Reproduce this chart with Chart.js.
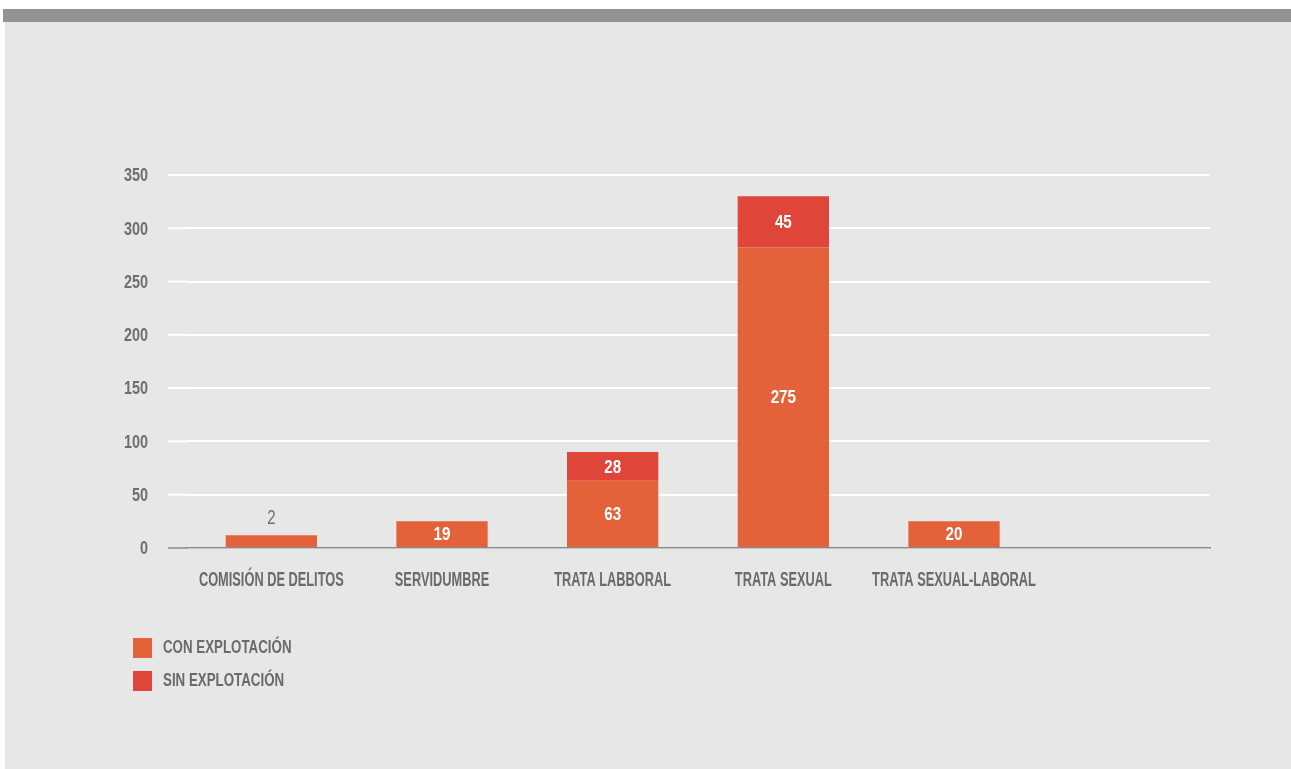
<!DOCTYPE html>
<html>
<head>
<meta charset="utf-8">
<script src="https://cdn.jsdelivr.net/npm/chart.js@4"></script>
<style>
  body { margin: 0; background: #fff; }
  #panel { position: absolute; left: 5px; top: 9px; width: 1286px; height: 760px; background: #e7e7e7; }
  #franja { position: absolute; left: 3px; top: 9px; width: 1288px; height: 13px; background: #939397; }
  #wrap { position: absolute; left: 0; top: 0; width: 1291px; height: 769px; }
  .leyenda { position: absolute; left: 133px; height: 20px; }
  .leyenda span.caja { position: absolute; left: 0; top: 0; width: 19px; height: 20px; }
  .leyenda span.txt { position: absolute; left: 30px; top: -1px; white-space: nowrap; font: bold 18px "Liberation Sans", Arial, sans-serif; color: #6a6a6a; transform: scaleX(0.74); transform-origin: left center; }
</style>
</head>
<body>
<div id="panel"></div>
<div id="franja"></div>
<div id="wrap"><canvas id="grafico"></canvas></div>
<div class="leyenda" style="top:638px"><span class="caja" style="background:#e3623a"></span><span class="txt">CON EXPLOTACIÓN</span></div>
<div class="leyenda" style="top:671px"><span class="caja" style="background:#df4538"></span><span class="txt">SIN EXPLOTACIÓN</span></div>
<script>
// Datos (altura dibujada y cifra rotulada)
const categorias = ['COMISIÓN DE DELITOS', 'SERVIDUMBRE', 'TRATA LABBORAL', 'TRATA SEXUAL', 'TRATA SEXUAL-LABORAL'];
const conExplotacion = [12, 25, 63, 282, 25];
const sinExplotacion = [0, 0, 27, 48, 0];
const rotuloCon = ['2', '19', '63', '275', '20'];
const rotuloSin = ['', '', '28', '45', ''];
const ticksY = [0, 50, 100, 150, 200, 250, 300, 350];

const fuente = '"Liberation Sans", Arial, sans-serif';
const inicioLineas = 168; // las líneas de guía empiezan antes que las barras

// texto estrechado (la fuente original es muy condensada)
function texto(ctx, str, x, y, align, sx) {
    ctx.save();
    ctx.translate(x, y);
    ctx.scale(sx, 1);
    ctx.textAlign = align;
    ctx.textBaseline = 'middle';
    ctx.fillText(str, 0, 0);
    ctx.restore();
}

const rotulos = {
    id: 'rotulos',
    beforeDatasetsDraw(chart) {
        // prolonga la rejilla y el eje hacia la izquierda
        const ctx = chart.ctx;
        const ejeY = chart.scales.y;
        const izq = chart.chartArea.left;
        ctx.save();
        ticksY.forEach(v => {
            const y = ejeY.getPixelForValue(v);
            ctx.strokeStyle = v === 0 ? '#8a8a8a' : '#ffffff';
            ctx.lineWidth = v === 0 ? 1.5 : 2;
            ctx.beginPath();
            ctx.moveTo(inicioLineas, y);
            ctx.lineTo(izq + 1, y);
            ctx.stroke();
        });
        ctx.restore();
    },
    afterDraw(chart) {
        const ctx = chart.ctx;
        const ejeX = chart.scales.x;
        const ejeY = chart.scales.y;

        // marcas del eje Y
        ctx.fillStyle = '#6e6e6e';
        ctx.font = 'bold 19px ' + fuente;
        ticksY.forEach(v => texto(ctx, String(v), 148, ejeY.getPixelForValue(v) + 1, 'right', 0.76));

        // categorías del eje X
        ctx.fillStyle = '#6a6a6a';
        ctx.font = 'bold 20px ' + fuente;
        categorias.forEach((c, i) => texto(ctx, c, ejeX.getPixelForTick(i), ejeX.top + 32, 'center', 0.64));

        // cifras de las barras
        const m0 = chart.getDatasetMeta(0);
        const m1 = chart.getDatasetMeta(1);
        categorias.forEach((c, i) => {
            const b = m0.data[i];
            if (i === 0) {
                ctx.fillStyle = '#6e6e6e';
                ctx.font = '20px ' + fuente;
                texto(ctx, rotuloCon[i], b.x, b.y - 17, 'center', 0.75);
            } else {
                ctx.fillStyle = '#fff';
                ctx.font = 'bold 19px ' + fuente;
                texto(ctx, rotuloCon[i], b.x, (b.y + b.base) / 2 + 1, 'center', 0.8);
            }
            if (rotuloSin[i]) {
                const s = m1.data[i];
                ctx.fillStyle = '#fff';
                ctx.font = 'bold 19px ' + fuente;
                texto(ctx, rotuloSin[i], s.x, (s.y + s.base) / 2 + 1, 'center', 0.8);
            }
        });
    }
};

new Chart(document.getElementById('grafico'), {
    type: 'bar',
    data: {
        labels: [...categorias, ''],
        datasets: [
            {
                label: 'CON EXPLOTACIÓN',
                data: conExplotacion,
                backgroundColor: '#e3623a',
                barPercentage: 0.535,
                categoryPercentage: 1
            },
            {
                label: 'SIN EXPLOTACIÓN',
                data: sinExplotacion,
                backgroundColor: '#df4538',
                barPercentage: 0.535,
                categoryPercentage: 1
            }
        ]
    },
    options: {
        responsive: true,
        maintainAspectRatio: false,
        animation: false,
        layout: { padding: { left: 118, right: 81, top: 175, bottom: 171 } },
        plugins: { legend: { display: false }, tooltip: { enabled: false } },
        scales: {
            x: {
                stacked: true,
                grid: { display: false },
                border: { color: '#8a8a8a', width: 1.5 },
                ticks: { display: false },
                afterFit(s) { s.height = 50; }
            },
            y: {
                stacked: true,
                min: 0,
                max: 350,
                afterBuildTicks(s) { s.ticks = ticksY.map(v => ({ value: v })); },
                grid: { color: '#ffffff', lineWidth: 2, drawTicks: false },
                border: { display: false },
                ticks: { display: false },
                afterFit(s) { s.width = 68; }
            }
        }
    },
    plugins: [rotulos]
});
</script>
</body>
</html>
